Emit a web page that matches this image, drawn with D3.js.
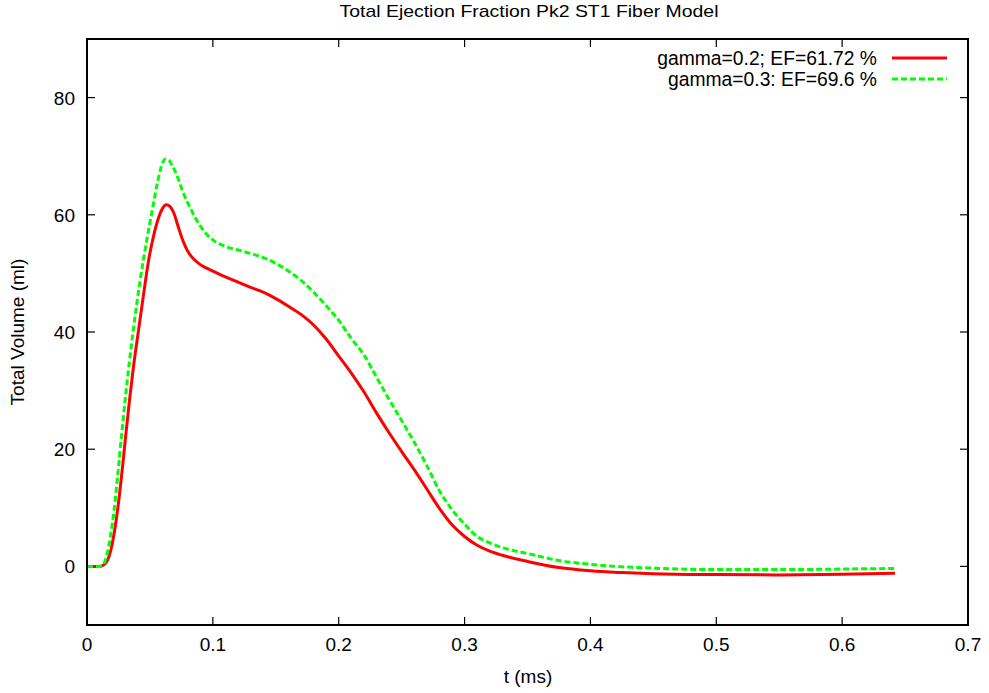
<!DOCTYPE html>
<html>
<head>
<meta charset="utf-8">
<script src="https://cdn.jsdelivr.net/npm/d3@7"></script>
<style>
  body { margin: 0; background: #fff; }
  text { font-family: "Liberation Sans", Arial, sans-serif; fill: #000; }
</style>
</head>
<body>
<div id="chart"></div>
<script>
// time (ms) and total volume (ml)
const redT = [0, 0.01, 0.013, 0.016, 0.019, 0.022, 0.025, 0.028, 0.031, 0.034, 0.037, 0.041, 0.045, 0.049,
  0.053, 0.057, 0.06, 0.063, 0.066, 0.069, 0.072, 0.076, 0.08, 0.085, 0.09, 0.095, 0.1, 0.11, 0.12, 0.13,
  0.14, 0.15, 0.16, 0.17, 0.18, 0.19, 0.2, 0.21, 0.22, 0.23, 0.24, 0.25, 0.26, 0.27, 0.28, 0.29, 0.3,
  0.31, 0.32, 0.33, 0.35, 0.375, 0.4, 0.425, 0.45, 0.5, 0.55, 0.6, 0.642];
const redV = [0, 0, 0.2, 0.9, 2.8, 6.2, 10.8, 16.5, 22.8, 28.8, 34.2, 40.4, 46.5, 52.3,
  56.5, 59.6, 61.1, 61.7, 61.4, 60.3, 58.3, 55.7, 53.8, 52.4, 51.5, 50.9, 50.4, 49.4, 48.5, 47.6,
  46.8, 45.7, 44.4, 43.0, 41.2, 38.8, 35.9, 33.0, 29.8, 26.2, 22.8, 19.6, 16.5, 13.2, 9.9, 7.1, 5.1,
  3.6, 2.6, 1.9, 0.85, -0.2, -0.75, -1.05, -1.25, -1.4, -1.45, -1.35, -1.15];

const greenT = [0, 0.01, 0.013, 0.016, 0.0185, 0.0215, 0.0245, 0.0275, 0.031, 0.034, 0.0368, 0.042, 0.0475,
  0.052, 0.056, 0.059, 0.062, 0.065, 0.068, 0.0713, 0.075, 0.079, 0.082, 0.086, 0.09, 0.095, 0.1, 0.11,
  0.12, 0.13, 0.14, 0.15, 0.16, 0.17, 0.18, 0.19, 0.2, 0.21, 0.22, 0.23, 0.24, 0.25, 0.26, 0.27, 0.28,
  0.29, 0.3, 0.31, 0.32, 0.33, 0.35, 0.375, 0.4, 0.42, 0.45, 0.5, 0.55, 0.6, 0.642];
const greenV = [0, 0, 0.3, 2.2, 5.0, 9.6, 15.8, 22.5, 29.8, 35.5, 40.4, 48.5, 55.7,
  61.0, 65.5, 68.2, 69.5, 69.3, 68.3, 66.8, 64.6, 62.5, 61.2, 59.5, 58.1, 56.7, 55.7, 54.6,
  54.0, 53.4, 52.7, 51.7, 50.4, 48.8, 46.8, 44.5, 42.0, 38.9, 36.1, 32.3, 28.5, 24.9, 21.2, 17.2, 12.9,
  9.7, 7.2, 5.1, 4.0, 3.2, 2.2, 1.0, 0.35, 0, -0.3, -0.55, -0.55, -0.45, -0.35];

const xTicks = [0, 0.1, 0.2, 0.3, 0.4, 0.5, 0.6, 0.7];
const yTicks = [0, 20, 40, 60, 80];
const labels = ["gamma=0.2; EF=61.72 %", "gamma=0.3: EF=69.6 %"];

const width = 989, height = 693;
const plotLeft = 87, plotRight = 968, plotTop = 39, plotBottom = 625;

const svg = d3.select("#chart").append("svg")
  .attr("width", width)
  .attr("height", height);

const x = d3.scaleLinear().domain([0, 0.7]).range([plotLeft, plotRight]);
const y = d3.scaleLinear().domain([-10, 90]).range([plotBottom, plotTop]);

const tickLen = 8;

// ticks (gnuplot style: inward, mirrored)
const g = svg.append("g").attr("stroke", "#000").attr("stroke-width", 1.2);
xTicks.forEach(t => {
  g.append("line").attr("x1", x(t)).attr("x2", x(t)).attr("y1", plotBottom).attr("y2", plotBottom - tickLen);
  g.append("line").attr("x1", x(t)).attr("x2", x(t)).attr("y1", plotTop).attr("y2", plotTop + tickLen);
});
yTicks.forEach(v => {
  g.append("line").attr("x1", plotLeft).attr("x2", plotLeft + tickLen).attr("y1", y(v)).attr("y2", y(v));
  g.append("line").attr("x1", plotRight).attr("x2", plotRight - tickLen).attr("y1", y(v)).attr("y2", y(v));
});

svg.selectAll(".xt").data(xTicks).join("text")
  .attr("x", d => x(d)).attr("y", 651)
  .attr("text-anchor", "middle").attr("font-size", 19)
  .text(d => d);

svg.selectAll(".yt").data(yTicks).join("text")
  .attr("x", 75).attr("y", d => y(d) + 7)
  .attr("text-anchor", "end").attr("font-size", 19)
  .text(d => d);

// curves
const line = d3.line()
  .x(d => x(d[0]))
  .y(d => y(d[1]))
  .curve(d3.curveMonotoneX);

const red = redT.map((t, i) => [t, redV[i]]);
const green = greenT.map((t, i) => [t, greenV[i]]);

svg.append("path").datum(red)
  .attr("d", line).attr("fill", "none")
  .attr("stroke", "#ff0000").attr("stroke-width", 3);

svg.append("path").datum(green)
  .attr("d", line).attr("fill", "none")
  .attr("stroke", "#00ff00").attr("stroke-width", 3)
  .attr("stroke-dasharray", "6,3");

// frame
svg.append("rect")
  .attr("x", plotLeft).attr("y", plotTop)
  .attr("width", plotRight - plotLeft).attr("height", plotBottom - plotTop)
  .attr("fill", "none").attr("stroke", "#000").attr("stroke-width", 2);

// legend
const legend = svg.append("g");
[["#ff0000", null], ["#00ff00", "6,3"]].forEach(([c, dash], i) => {
  const ly = 58 + i * 21;
  legend.append("text")
    .attr("x", 877).attr("y", ly + 7)
    .attr("text-anchor", "end").attr("font-size", 19.3)
    .text(labels[i]);
  legend.append("line")
    .attr("x1", 892).attr("x2", 947).attr("y1", ly).attr("y2", ly)
    .attr("stroke", c).attr("stroke-width", 3)
    .attr("stroke-dasharray", dash);
});

// titles
svg.append("text")
  .attr("x", 529).attr("y", 17)
  .attr("text-anchor", "middle").attr("font-size", 17)
  .attr("textLength", 379).attr("lengthAdjust", "spacingAndGlyphs")
  .text("Total Ejection Fraction Pk2 ST1 Fiber Model");

svg.append("text")
  .attr("x", 528).attr("y", 683)
  .attr("text-anchor", "middle").attr("font-size", 19)
  .text("t (ms)");

svg.append("text")
  .attr("transform", "translate(24,332) rotate(-90)")
  .attr("text-anchor", "middle").attr("font-size", 19)
  .text("Total Volume (ml)");
</script>
</body>
</html>
